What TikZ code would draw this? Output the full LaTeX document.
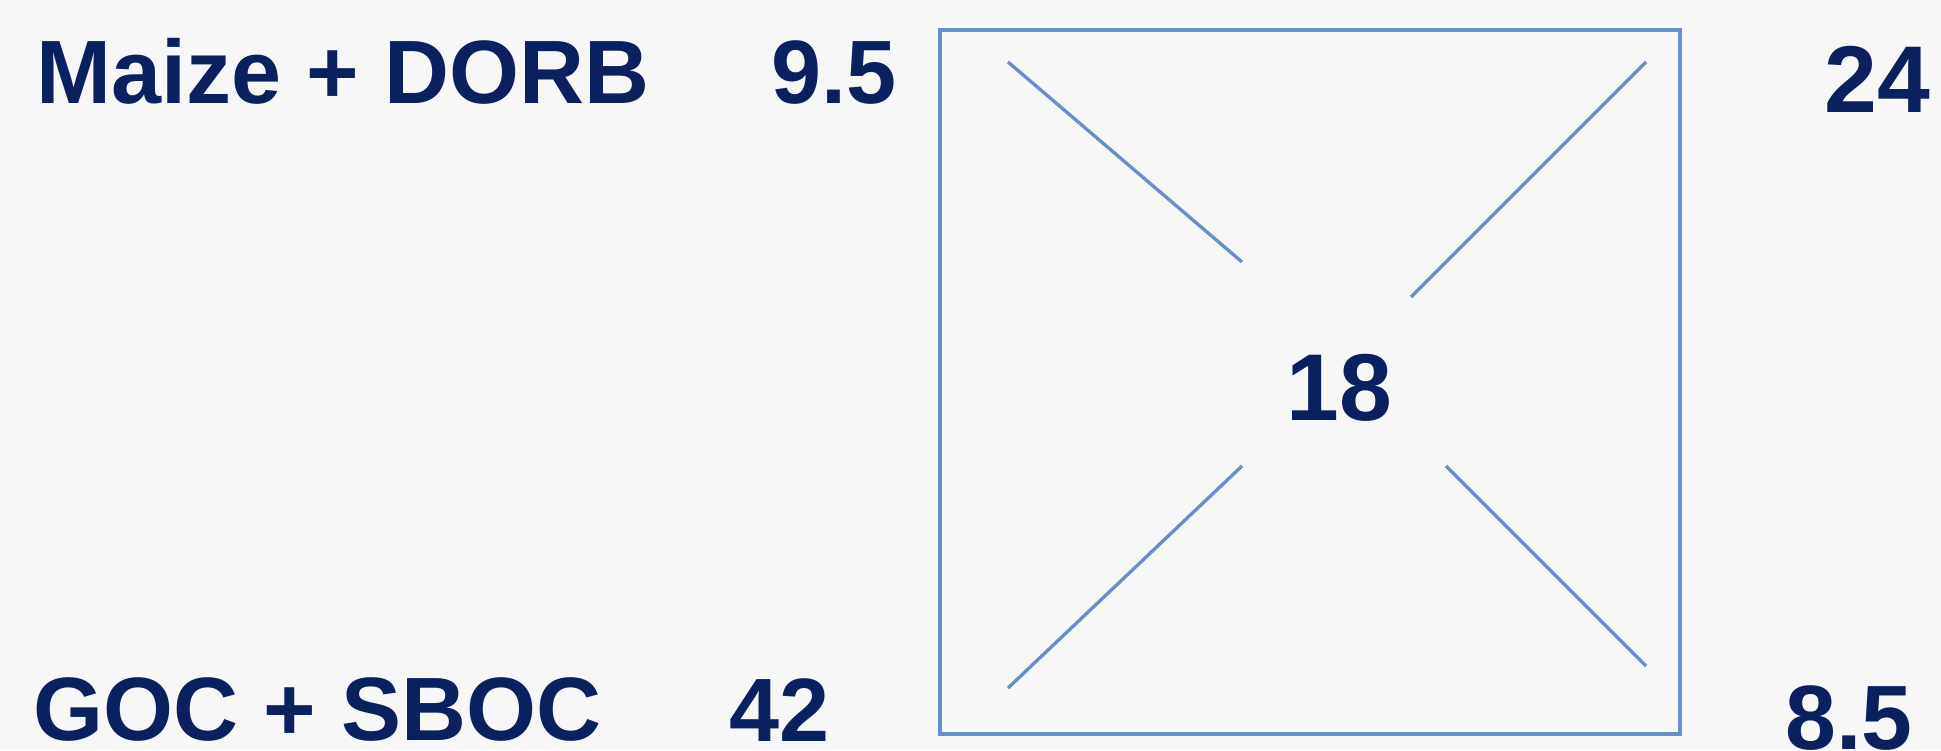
\documentclass[tikz,border=0pt]{standalone}
\usepackage{fontspec}
\setmainfont{Liberation Sans}
\usepackage{tikz}

\definecolor{navy}{HTML}{0B205F}
\definecolor{lineblue}{RGB}{104,142,204}
\definecolor{paper}{HTML}{F7F7F7}

\begin{document}
\begin{tikzpicture}[
  txt/.style={inner sep=0pt, text=navy, font=\fontsize{25.6}{30}\selectfont\bfseries},
  bigtxt/.style={inner sep=0pt, text=navy, font=\fontsize{27}{32}\selectfont\bfseries},
  arm/.style={draw=lineblue, line width=0.95pt}
]

\fill[paper] (0,0) rectangle (19.41,7.5);
\useasboundingbox (0,0) rectangle (19.41,7.5);

% square
\node (sq) [draw=lineblue, line width=1.1pt, minimum width=7.40cm, minimum height=7.04cm] at (13.10,3.68) {};

\node (maize) [txt, anchor=base west] at (0.36,6.46) {Maize + DORB};
\node (maizeval) [txt, anchor=base east] at (8.97,6.46) {9.5};
\node (goc) [txt, anchor=base west] at (0.33,0.10) {GOC + SBOC};
\node (gocval) [txt, anchor=base east] at (8.30,0.09) {42};

\node (mix) [bigtxt, anchor=base] at (13.39,3.30) {18};
\node (topval) [bigtxt, anchor=base east] at (19.31,6.37) {24};
\node (botval) [txt, font=\fontsize{26}{31}\selectfont\bfseries, anchor=base east] at (19.13,0.01) {8.5};

% arms of the cross
\coordinate (tl1) at (10.08,6.88);
\coordinate (tl2) at (12.42,4.88);
\coordinate (tr1) at (16.46,6.88);
\coordinate (tr2) at (14.11,4.53);
\coordinate (bl1) at (10.08,0.62);
\coordinate (bl2) at (12.42,2.84);
\coordinate (br1) at (16.46,0.84);
\coordinate (br2) at (14.46,2.84);

\draw[arm] (tl1) -- (tl2);
\draw[arm] (tr1) -- (tr2);
\draw[arm] (bl1) -- (bl2);
\draw[arm] (br1) -- (br2);

\end{tikzpicture}
\end{document}
